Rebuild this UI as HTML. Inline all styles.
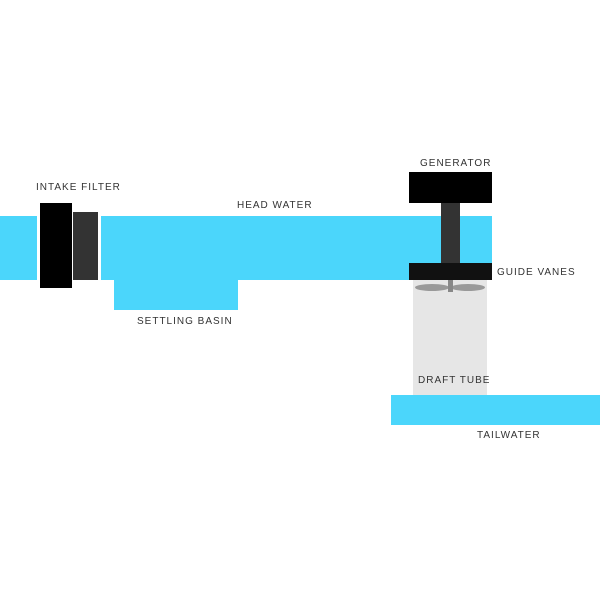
<!DOCTYPE html>
<html><head><style>
body{margin:0;width:600px;height:600px;background:#fff;position:relative;overflow:hidden;font-family:"Liberation Sans",sans-serif}
div{position:absolute}
.t{font-size:10px;letter-spacing:1px;color:#333;white-space:nowrap}
.b{background:#4bd6fb}
</style></head><body>
<div class="b" style="left:0;top:216px;width:37px;height:64px"></div>
<div class="b" style="left:101px;top:216px;width:391px;height:64px"></div>
<div class="b" style="left:114px;top:280px;width:124px;height:30px"></div>
<div style="left:40px;top:203px;width:32px;height:85px;background:#000"></div>
<div style="left:73px;top:212px;width:25px;height:68px;background:#333"></div>
<div style="left:413px;top:280px;width:74px;height:115px;background:#e6e6e6"></div>
<div style="left:415px;top:284px;width:34px;height:7px;border-radius:50%;background:#999"></div>
<div style="left:451px;top:284px;width:34px;height:7px;border-radius:50%;background:#999"></div>
<div style="left:448px;top:280px;width:5px;height:12px;background:#888"></div>
<div style="left:409px;top:172px;width:83px;height:31px;background:#000"></div>
<div style="left:441px;top:203px;width:19px;height:60px;background:#333"></div>
<div style="left:409px;top:263px;width:83px;height:17px;background:#111"></div>
<div class="b" style="left:391px;top:395px;width:209px;height:30px"></div>
<div class="t" style="left:36px;top:182px">INTAKE FILTER</div>
<div class="t" style="left:237px;top:200px">HEAD WATER</div>
<div class="t" style="left:137px;top:316px">SETTLING BASIN</div>
<div class="t" style="left:420px;top:158px">GENERATOR</div>
<div class="t" style="left:497px;top:267px">GUIDE VANES</div>
<div class="t" style="left:418px;top:375px">DRAFT TUBE</div>
<div class="t" style="left:477px;top:430px">TAILWATER</div>
</body></html>
